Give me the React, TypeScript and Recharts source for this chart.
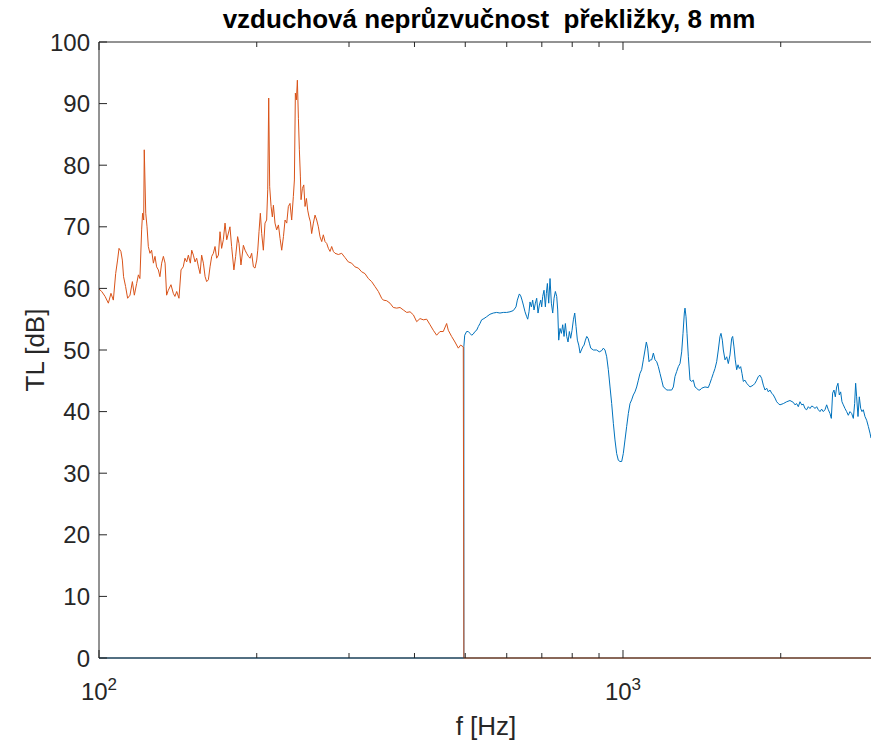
import React from 'react'
import { LineChart, Line, XAxis, YAxis, Label } from 'recharts'

// frekvence [Hz] a neprůzvučnost [dB]
const orangeFreq = [
  100, 101.2, 102.7, 104.2, 105.4, 106.5, 107.6, 108.5, 109.2, 110.1, 110.8, 111.4, 112.4, 113.4, 114.6,
  115.8, 116.8, 118.0, 118.9, 119.7, 120.6, 121.1, 121.7, 122.0, 122.8, 123.5, 124.2, 125.1, 126.0, 127.0,
  127.9, 128.8, 129.8, 130.7, 131.7, 132.7, 133.7, 134.6, 135.6, 137.2, 138.6, 139.6, 140.7, 142.1, 143.4,
  144.8, 145.9, 147.0, 148.1, 149.4, 150.3, 151.4, 152.5, 153.6, 154.8, 155.9, 157.0, 158.2, 159.4, 160.5,
  161.7, 162.9, 164.1, 165.3, 166.5, 167.7, 169.0, 170.2, 171.4, 172.7, 174.0, 175.3, 177.8, 179.1, 180.9,
  182.3, 183.9, 185.0, 186.6, 188.6, 190.0, 191.3, 192.8, 194.2, 195.6, 197.1, 198.5, 200.0, 200.9, 202.0,
  203.2, 204.4, 205.9, 207.4, 208.9, 209.9, 210.8, 211.7, 213.0, 214.2, 215.2, 216.7, 218.3, 220.0, 221.6,
  223.2, 224.9, 226.5, 228.2, 229.8, 231.5, 233.2, 234.9, 236.0, 237.0, 238.1, 239.1, 240.2, 241.2, 242.3,
  243.0, 244.4, 245.9, 247.3, 248.8, 250.2, 251.7, 253.2, 254.6, 256.5, 258.4, 260.3, 262.2, 264.1, 266.1,
  268.0, 270.0, 272.0, 274.0, 276.0, 278.0, 280.1, 282.1, 286.3, 290.5, 294.8, 299.1, 303.5, 307.9, 312.5,
  317.1, 321.8, 326.6, 331.4, 336.3, 341.3, 346.3, 348.8, 354.0, 359.2, 364.5, 369.9, 375.4, 380.9, 386.6,
  392.3, 398.1, 403.9, 409.9, 415.9, 422.0, 428.3, 434.5, 440.9, 447.4, 454.0, 460.7, 464.1, 470.9, 477.9,
  485.0, 490.0, 495.7, 497.0, 3000
]
const orangeTL = [
  59.9, 59.5, 58.7, 57.6, 59.2, 58.1, 62.4, 64.6, 66.5, 66.0, 64.6, 61.9, 60.3, 58.4, 58.9,
  61.1, 58.9, 60.8, 62.2, 61.6, 69.5, 72.2, 71.1, 82.5, 72.2, 70.0, 66.8, 65.7, 66.2, 64.1,
  65.2, 63.5, 63.0, 61.9, 64.1, 65.2, 64.1, 58.9, 59.7, 60.6, 59.2, 58.7, 59.5, 58.4, 63.0,
  63.5, 64.9, 64.3, 65.4, 64.1, 66.2, 65.4, 64.3, 64.9, 63.5, 62.4, 65.4, 64.1, 61.9, 61.1,
  61.4, 63.5, 65.2, 65.7, 66.8, 64.9, 65.4, 69.2, 66.5, 67.9, 70.6, 67.9, 70.0, 66.8, 63.0,
  65.2, 68.4, 67.3, 63.8, 67.0, 66.2, 65.7, 65.2, 64.9, 65.7, 63.5, 63.3, 64.6, 66.2, 69.2,
  72.2, 68.9, 66.2, 70.6, 71.1, 76.0, 90.9, 76.5, 73.3, 71.6, 73.5, 70.6, 69.5, 70.3, 68.1,
  66.2, 68.4, 71.1, 70.6, 73.3, 73.8, 71.1, 74.9, 77.6, 91.7, 90.6, 93.8, 87.6, 82.5, 78.1,
  74.4, 76.2, 76.8, 73.3, 74.6, 72.7, 71.6, 70.8, 68.9, 70.6, 71.9, 71.1, 70.0, 68.4, 67.6,
  68.7, 67.6, 67.3, 66.5, 66.0, 66.8, 66.0, 65.7, 65.5, 65.7, 65.0, 64.3, 64.1, 63.5, 63.3,
  62.7, 62.4, 61.6, 61.1, 60.3, 59.5, 58.4, 58.1, 58.0, 57.6, 56.9, 56.8, 56.9, 56.5, 56.1,
  56.2, 55.7, 54.6, 55.1, 54.9, 55.0, 54.1, 53.2, 52.4, 53.0, 53.0, 54.3, 53.2, 52.2, 51.3,
  50.3, 50.8, 50.5, 0, 0
]

const blueFreq = [
  100, 497.0, 497.0, 498.8, 503.0, 506.7, 510.5, 514.2, 518.0, 521.8, 525.6, 529.5, 533.4, 537.3, 542.8,
  549.2, 557.3, 565.5, 573.9, 582.4, 591.0, 599.8, 608.6, 617.6, 624.9, 628.6, 634.2, 637.9, 641.7, 645.4,
  650.2, 655.0, 657.9, 661.7, 664.6, 668.5, 672.4, 676.4, 680.4, 684.4, 688.4, 692.5, 696.6, 699.6, 702.7,
  706.8, 711.0, 714.1, 717.3, 721.5, 725.7, 730.0, 734.3, 738.6, 742.9, 747.3, 750.6, 753.9, 758.3, 762.8,
  767.3, 771.8, 776.3, 780.9, 785.4, 790.1, 794.7, 799.4, 804.1, 808.9, 813.6, 818.4, 823.3, 828.1, 833.0,
  837.9, 842.8, 847.8, 852.8, 857.8, 862.8, 867.9, 878.0, 890.7, 901.0, 910.7, 917.4, 924.0, 930.9, 937.6,
  944.6, 951.5, 958.5, 965.4, 972.5, 979.7, 986.9, 994.3, 1001.4, 1008.8, 1016.3, 1023.8, 1031.3, 1038.7, 1046.4,
  1054.1, 1061.9, 1069.8, 1077.5, 1085.4, 1093.5, 1101.6, 1108.1, 1114.6, 1121.2, 1127.8, 1134.4, 1142.8, 1151.2, 1159.7,
  1168.0, 1176.6, 1185.3, 1194.0, 1202.9, 1211.5, 1220.5, 1238.6, 1247.7, 1256.7, 1266.0, 1275.3, 1284.7, 1294.2, 1301.8,
  1309.4, 1313.3, 1319.1, 1324.9, 1332.7, 1342.5, 1352.4, 1362.1, 1372.2, 1382.3, 1392.6, 1402.5, 1412.9, 1433.8, 1454.8,
  1465.5, 1476.4, 1487.3, 1498.3, 1509.4, 1520.2, 1531.4, 1538.2, 1547.4, 1554.2, 1565.7, 1577.3, 1588.6, 1600.3, 1612.2,
  1619.2, 1628.7, 1637.8, 1648.0, 1657.7, 1667.4, 1677.3, 1687.0, 1696.7, 1709.2, 1721.9, 1734.6, 1747.4, 1773.0, 1786.1,
  1799.3, 1812.6, 1826.0, 1839.1, 1852.7, 1866.4, 1880.2, 1894.1, 1907.7, 1921.8, 1936.0, 1950.3, 1964.7, 1978.8, 1993.4,
  2023.0, 2053.0, 2083.0, 2113.9, 2129.0, 2144.8, 2160.6, 2176.6, 2192.8, 2209.0, 2224.8, 2241.3, 2257.9, 2274.6, 2291.4,
  2307.8, 2324.9, 2342.1, 2359.4, 2376.8, 2393.8, 2411.5, 2429.3, 2447.3, 2465.4, 2483.1, 2498.0, 2512.4, 2527.5, 2542.1,
  2557.3, 2572.1, 2587.0, 2602.5, 2617.5, 2633.2, 2652.7, 2671.7, 2691.5, 2711.4, 2731.4, 2751.6, 2767.5, 2779.6, 2791.8,
  2808.6, 2824.8, 2841.8, 2858.2, 2874.7, 2896.0, 2917.4, 2939.0, 2960.8, 2973.8
]
const blueTL = [
  0, 0, 50.6, 52.4, 53.0, 53.0, 52.7, 52.4, 52.6, 53.0, 53.2, 53.8, 54.3, 54.9, 55.1,
  55.4, 55.8, 56.0, 56.1, 56.0, 56.1, 56.1, 56.2, 56.4, 57.0, 58.1, 59.1, 58.8, 58.1, 57.3,
  56.2, 55.4, 55.0, 56.2, 57.8, 57.0, 58.1, 56.5, 57.6, 58.4, 56.0, 57.3, 58.1, 57.0, 58.7,
  59.7, 57.0, 59.2, 60.8, 57.6, 61.6, 57.6, 56.0, 58.4, 59.5, 58.7, 56.5, 51.6, 53.5, 52.7,
  54.1, 52.2, 54.3, 52.2, 51.3, 53.0, 51.9, 53.2, 54.9, 56.0, 53.8, 51.6, 50.8, 49.5, 50.0,
  50.5, 50.8, 51.6, 52.2, 51.9, 51.1, 50.3, 50.0, 50.0, 49.7, 49.9, 50.3, 50.0, 48.9, 46.8,
  44.0, 41.3, 38.1, 35.4, 33.2, 32.1, 31.9, 31.9, 33.2, 35.4, 37.6, 39.7, 41.3, 41.9, 42.7,
  43.2, 44.0, 45.1, 46.2, 46.8, 48.4, 50.0, 51.3, 50.3, 48.1, 48.4, 48.4, 49.5, 48.4, 48.1,
  47.3, 46.2, 45.1, 44.0, 43.8, 43.5, 43.5, 43.5, 44.0, 45.7, 46.5, 47.3, 47.8, 49.7, 52.7,
  56.0, 56.8, 55.4, 52.7, 48.9, 45.1, 44.9, 45.1, 44.0, 43.8, 43.5, 43.5, 43.8, 44.0, 43.9,
  44.6, 45.4, 46.2, 47.0, 48.1, 50.0, 52.2, 52.7, 51.6, 50.0, 48.4, 48.9, 47.8, 49.2, 51.9,
  52.2, 50.5, 48.4, 46.8, 47.6, 47.0, 47.3, 46.2, 44.9, 45.1, 44.6, 44.3, 44.0, 44.3, 44.6,
  45.1, 45.7, 45.9, 45.4, 44.3, 43.5, 43.8, 43.2, 43.5, 43.0, 42.7, 42.2, 41.6, 41.3, 41.1,
  41.3, 41.6, 41.8, 41.5, 41.1, 41.3, 40.8, 41.6, 41.1, 41.2, 40.5, 40.3, 40.8, 40.5, 40.9,
  40.8, 40.5, 40.8, 40.3, 40.0, 40.4, 40.0, 40.3, 41.1, 40.3, 39.7, 38.9, 43.0, 43.5, 42.4,
  44.0, 44.6, 42.7, 43.2, 41.6, 41.1, 40.5, 40.0, 39.4, 40.0, 39.7, 38.9, 41.3, 44.6, 42.4,
  39.2, 42.4, 40.5, 40.0, 40.3, 39.2, 38.6, 37.6, 36.5, 35.7
]

const xTicks = [100, 200, 300, 400, 500, 600, 700, 800, 900, 1000, 2000]
const yTicks = [0, 10, 20, 30, 40, 50, 60, 70, 80, 90, 100]
const majorX = [100, 1000]

const orangeData = orangeFreq.map((f, i) => ({ f, tl: orangeTL[i] }))
const blueData = blueFreq.map((f, i) => ({ f, tl: blueTL[i] }))

const AXIS = '#262626'
const FONT = '"Liberation Sans", Arial, Helvetica, sans-serif'

const BottomTick = (props: any) => {
  const { x, y, payload } = props
  const major = majorX.includes(payload.value)
  return (
    <g>
      <line x1={x} y1={y} x2={x} y2={y - (major ? 8 : 5)} stroke={AXIS} strokeWidth={1} />
      {major && (
        <text x={x} y={y + 42} textAnchor="middle" fontSize={24} fill={AXIS} fontFamily={FONT}>
          10<tspan dy={-10} fontSize={17}>{Math.round(Math.log10(payload.value))}</tspan>
        </text>
      )}
    </g>
  )
}

const TopTick = (props: any) => {
  const { x, y, payload } = props
  const major = majorX.includes(payload.value)
  return <line x1={x} y1={y} x2={x} y2={y + (major ? 8 : 5)} stroke={AXIS} strokeWidth={1} />
}

const LeftTick = (props: any) => {
  const { x, y, payload } = props
  return (
    <g>
      <line x1={x} y1={y} x2={x + 8} y2={y} stroke={AXIS} strokeWidth={1} />
      <text x={x - 9} y={y + 8.5} textAnchor="end" fontSize={24} fill={AXIS} fontFamily={FONT}>
        {payload.value}
      </text>
    </g>
  )
}

const TitleLabel = (props: any) => {
  const { x, y, width } = props.viewBox
  return (
    <text x={x + width / 2 + 3} y={y - 13} textAnchor="middle" fontSize={26} fontWeight="bold" fill="#000"
      fontFamily={FONT} style={{ whiteSpace: 'pre' }}>
      {'vzduchová neprůzvučnost  překližky, 8 mm'}
    </text>
  )
}

const XLabel = (props: any) => {
  const { x, y, width } = props.viewBox
  return (
    <text x={x + width / 2} y={y + 77} textAnchor="middle" fontSize={26} fill={AXIS} fontFamily={FONT}>
      f [Hz]
    </text>
  )
}

const YLabel = (props: any) => {
  const { x, y, height } = props.viewBox
  const cx = x + 35
  const cy = y + height / 2
  return (
    <text x={cx} y={cy} transform={`rotate(-90, ${cx}, ${cy})`} textAnchor="middle" dominantBaseline="central"
      fontSize={26} fill={AXIS} fontFamily={FONT}>
      TL [dB]
    </text>
  )
}

export default function App() {
  return (
    <div style={{ width: 871, height: 747, overflow: 'hidden', background: '#fff' }}>
      <style>{'html, body { margin: 0; padding: 0; overflow: hidden; }'}</style>
      <LineChart width={880} height={747} margin={{ top: 41, right: 7, bottom: 0, left: 0 }}>
        <XAxis
          dataKey="f"
          type="number"
          scale="log"
          domain={[100, 3000]}
          allowDataOverflow
          ticks={xTicks}
          interval={0}
          height={89}
          tickSize={0}
          tickMargin={0}
          tickLine={false}
          tick={BottomTick}
          axisLine={{ stroke: AXIS, strokeWidth: 1 }}
        >
          <Label content={XLabel} />
        </XAxis>
        <XAxis
          xAxisId="top"
          orientation="top"
          dataKey="f"
          type="number"
          scale="log"
          domain={[100, 3000]}
          allowDataOverflow
          ticks={xTicks}
          interval={0}
          height={1}
          tickSize={0}
          tickMargin={0}
          tickLine={false}
          tick={TopTick}
          axisLine={{ stroke: AXIS, strokeWidth: 1 }}
        >
          <Label content={TitleLabel} />
        </XAxis>
        <YAxis
          type="number"
          domain={[0, 100]}
          ticks={yTicks}
          interval={0}
          width={99}
          tickSize={0}
          tickMargin={0}
          tickLine={false}
          tick={LeftTick}
          axisLine={{ stroke: AXIS, strokeWidth: 1 }}
        >
          <Label content={YLabel} />
        </YAxis>
        <Line data={blueData} dataKey="tl" type="linear" stroke="#0072BD" strokeWidth={1}
          dot={false} activeDot={false} isAnimationActive={false} />
        <Line data={orangeData} dataKey="tl" type="linear" stroke="#D95319" strokeWidth={1}
          dot={false} activeDot={false} isAnimationActive={false} />
      </LineChart>
    </div>
  )
}
